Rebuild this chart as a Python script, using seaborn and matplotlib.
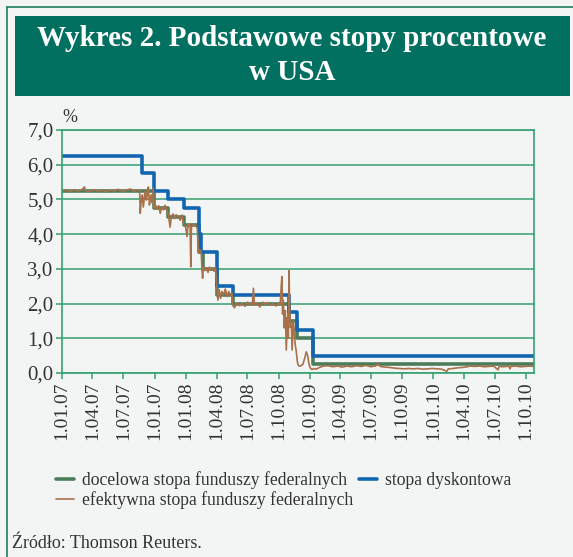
import pandas as pd
import seaborn as sns
import matplotlib.pyplot as plt
from matplotlib.patches import Rectangle
from matplotlib.lines import Line2D

# target fed funds rate (step)
target_dates = ["2007-01-01", "2007-09-29", "2007-11-11", "2007-12-26", "2008-02-08", "2008-02-21",
                "2008-04-02", "2008-05-19", "2008-11-01", "2008-11-24", "2009-01-12", "2010-10-25"]
target_vals = [5.25, 4.75, 4.50, 4.25, 3.50, 3.00, 2.25, 2.00, 1.50, 1.00, 0.25, 0.25]

# discount rate (step)
disc_dates = ["2007-01-01", "2007-08-25", "2007-09-30", "2007-11-11", "2007-12-26", "2008-02-08",
              "2008-02-16", "2008-04-02", "2008-05-19", "2008-11-01", "2008-11-24", "2009-01-12", "2010-10-25"]
disc_vals = [6.25, 5.75, 5.25, 5.00, 4.75, 4.00, 3.50, 2.50, 2.25, 1.75, 1.25, 0.50, 0.50]

# effective fed funds rate
eff_dates = [
    "2007-01-01", "2007-01-12", "2007-01-24", "2007-02-05", "2007-02-16", "2007-02-28", "2007-03-08",
    "2007-03-12", "2007-03-24", "2007-04-05", "2007-04-17", "2007-04-29", "2007-05-11", "2007-05-23",
    "2007-06-04", "2007-06-16", "2007-06-28", "2007-07-10", "2007-07-22", "2007-08-03", "2007-08-12",
    "2007-08-18", "2007-08-20", "2007-08-23", "2007-08-26", "2007-08-29", "2007-09-01", "2007-09-04",
    "2007-09-07", "2007-09-10", "2007-09-13", "2007-09-16", "2007-09-19", "2007-09-21", "2007-09-24",
    "2007-09-27", "2007-09-30", "2007-10-03", "2007-10-08", "2007-10-13", "2007-10-18", "2007-10-22",
    "2007-10-27", "2007-11-01", "2007-11-05", "2007-11-11", "2007-11-16", "2007-11-20", "2007-11-25",
    "2007-11-30", "2007-12-04", "2007-12-10", "2007-12-16", "2007-12-21", "2007-12-26", "2008-01-01",
    "2008-01-05", "2008-01-08", "2008-01-11", "2008-01-14", "2008-01-16", "2008-01-18", "2008-01-24",
    "2008-01-29", "2008-02-04", "2008-02-08", "2008-02-13", "2008-02-16", "2008-02-18", "2008-02-20",
    "2008-02-22", "2008-02-27", "2008-03-02", "2008-03-07", "2008-03-11", "2008-03-16", "2008-03-20",
    "2008-03-25", "2008-03-29", "2008-04-02", "2008-04-05", "2008-04-09", "2008-04-13", "2008-04-17",
    "2008-04-22", "2008-04-27", "2008-05-02", "2008-05-07", "2008-05-12", "2008-05-17", "2008-05-19",
    "2008-05-24", "2008-05-31", "2008-06-08", "2008-06-16", "2008-06-24", "2008-07-02", "2008-07-10",
    "2008-07-16", "2008-07-19", "2008-07-22", "2008-07-30", "2008-08-07", "2008-08-15", "2008-08-23",
    "2008-08-31", "2008-09-08", "2008-09-16", "2008-09-24", "2008-10-01", "2008-10-06", "2008-10-09",
    "2008-10-11", "2008-10-13", "2008-10-15", "2008-10-18", "2008-10-21", "2008-10-24", "2008-10-27",
    "2008-10-30", "2008-11-01", "2008-11-03", "2008-11-05", "2008-11-08", "2008-11-10", "2008-11-14",
    "2008-11-17", "2008-11-19", "2008-11-22", "2008-11-26", "2008-11-29", "2008-12-05", "2008-12-12",
    "2008-12-18", "2008-12-22", "2008-12-26", "2008-12-30", "2009-01-03", "2009-01-08", "2009-01-14",
    "2009-01-20", "2009-01-28", "2009-02-10", "2009-02-24", "2009-03-10", "2009-03-24", "2009-04-07",
    "2009-04-21", "2009-05-05", "2009-05-19", "2009-06-02", "2009-06-16", "2009-06-30", "2009-07-14",
    "2009-07-22", "2009-07-28", "2009-08-11", "2009-08-25", "2009-09-08", "2009-09-22", "2009-10-06",
    "2009-10-20", "2009-11-03", "2009-11-17", "2009-12-01", "2009-12-15", "2009-12-29", "2010-01-12",
    "2010-01-26", "2010-02-10", "2010-02-14", "2010-02-28", "2010-03-14", "2010-03-28", "2010-04-11",
    "2010-04-19", "2010-05-03", "2010-05-17", "2010-05-31", "2010-06-14", "2010-06-28", "2010-07-11",
    "2010-07-14", "2010-07-28", "2010-08-11", "2010-08-15", "2010-08-18", "2010-09-01", "2010-09-15",
    "2010-09-29", "2010-10-13", "2010-10-25",
]
eff_vals = [
    5.24, 5.27, 5.22, 5.28, 5.25, 5.27, 5.36,
    5.25, 5.23, 5.28, 5.24, 5.27, 5.22, 5.27,
    5.25, 5.29, 5.23, 5.27, 5.30, 5.24, 5.28,
    5.27, 4.60, 5.00, 5.13, 4.78, 5.05, 5.27,
    4.98, 5.15, 5.36, 4.84, 5.05, 5.13, 4.90,
    5.33, 4.75, 4.85, 4.72, 4.82, 4.60, 4.78,
    4.70, 4.83, 4.74, 4.55, 4.20, 4.52, 4.58,
    4.45, 4.56, 4.50, 4.40, 4.55, 4.25, 4.20,
    3.93, 4.28, 4.22, 4.30, 3.06, 4.20, 4.28,
    4.25, 4.18, 3.46, 3.55, 3.45, 2.97, 2.73,
    3.05, 2.95, 3.02, 2.90, 3.05, 2.97, 3.02,
    2.93, 3.05, 2.49, 2.10, 2.40, 2.15, 2.35,
    2.25, 2.42, 2.20, 2.35, 2.22, 2.30, 1.95,
    1.88, 2.02, 1.94, 2.00, 1.92, 2.04, 1.96,
    2.01, 2.44, 1.95, 2.02, 1.90, 2.04, 1.97,
    2.03, 1.95, 2.00, 1.93, 2.02, 1.97, 2.50,
    2.78, 1.70, 2.10, 1.30, 1.80, 0.66, 1.60,
    1.00, 2.95, 1.80, 1.31, 1.45, 0.66, 1.52,
    1.10, 0.84, 0.65, 0.30, 0.21, 0.20, 0.25,
    0.45, 0.61, 0.50, 0.25, 0.14, 0.10, 0.13,
    0.11, 0.15, 0.20, 0.21, 0.18, 0.20, 0.17,
    0.20, 0.18, 0.21, 0.19, 0.22, 0.18, 0.20,
    0.26, 0.19, 0.17, 0.16, 0.14, 0.13, 0.12,
    0.13, 0.12, 0.13, 0.11, 0.12, 0.13, 0.12,
    0.11, 0.05, 0.12, 0.13, 0.15, 0.16, 0.18,
    0.20, 0.19, 0.20, 0.18, 0.19, 0.20, 0.09,
    0.19, 0.18, 0.20, 0.12, 0.19, 0.20, 0.18,
    0.19, 0.20, 0.19,
]

tick_dates = pd.date_range("2007-01-01", "2010-10-01", freq="QS")
tick_labels = ["1.01.07", "1.04.07", "1.07.07", "1.01.07", "1.01.08", "1.04.08", "1.07.08", "1.10.08",
               "1.01.09", "1.04.09", "1.07.09", "1.10.09", "1.01.10", "1.04.10", "1.07.10", "1.10.10"]

target = pd.DataFrame({"data": pd.to_datetime(target_dates), "stopa": target_vals})
disc = pd.DataFrame({"data": pd.to_datetime(disc_dates), "stopa": disc_vals})
eff = pd.DataFrame({"data": pd.to_datetime(eff_dates), "stopa": eff_vals})

bg = "#f3f5f4"
frame = "#1f7f62"
grid = "#35a070"
c_target = "#4b7d5c"
c_disc = "#1266b1"
c_eff = "#a8714a"
txt = "#333333"

sns.set_style("white")
plt.rcParams["font.family"] = ["Liberation Serif", "DejaVu Serif"]

fig = plt.figure(figsize=(5.73, 5.57), dpi=100, facecolor=bg)

# page frame and title box
fig.add_artist(Line2D([7 / 573, 7 / 573], [0, 1 - 7 / 557], color=frame, lw=1.2))
fig.add_artist(Line2D([7 / 573, 1], [1 - 7 / 557, 1 - 7 / 557], color=frame, lw=1.2))
fig.add_artist(Rectangle((15 / 573, 1 - 96 / 557), 555 / 573, 80 / 557, transform=fig.transFigure,
                         facecolor="#027060", edgecolor="none"))
fig.text(292 / 573, 1 - 38 / 557, "Wykres 2. Podstawowe stopy procentowe", color="white",
         fontsize=21, fontweight="bold", ha="center", va="center")
fig.text(292 / 573, 1 - 73 / 557, "w USA", color="white",
         fontsize=21, fontweight="bold", ha="center", va="center")

ax = fig.add_axes([62 / 573, 1 - 373 / 557, 472 / 573, 243 / 557])
ax.set_facecolor(bg)

sns.lineplot(data=target, x="data", y="stopa", ax=ax, color=c_target, lw=2.6,
             drawstyle="steps-post", label="docelowa stopa funduszy federalnych")
sns.lineplot(data=disc, x="data", y="stopa", ax=ax, color=c_disc, lw=2.6,
             drawstyle="steps-post", label="stopa dyskontowa")
sns.lineplot(data=eff, x="data", y="stopa", ax=ax, color=c_eff, lw=1.2,
             label="efektywna stopa funduszy federalnych")

ax.set_xlim(pd.Timestamp("2007-01-01"), pd.Timestamp("2010-10-25"))
ax.set_ylim(0, 7)
ax.set_yticks(range(8))
ax.set_yticklabels([f"{v},0" for v in range(8)], fontsize=15, color=txt)
ax.set_xticks(tick_dates)
ax.set_xticklabels(tick_labels, rotation=90, fontsize=14, color=txt)
ax.yaxis.grid(True, color=grid, lw=1.1)
ax.set_axisbelow(True)
ax.tick_params(axis="both", length=4, width=1.1, color=grid, pad=2, left=True, bottom=True)
for s in ax.spines.values():
    s.set_color(grid)
    s.set_linewidth(1.2)
ax.set_xlabel("")
ax.set_ylabel("")
ax.legend_.remove()

fig.text(70 / 573, 1 - 117 / 557, "%", fontsize=13, color=txt, ha="center", va="center")

handles, labels = ax.get_legend_handles_labels()
order = [0, 2, 1]
leg = fig.legend([handles[i] for i in order], [labels[i] for i in order], ncol=2,
                 loc="upper left", bbox_to_anchor=(40 / 573, 1 - 455 / 557), frameon=False,
                 fontsize=12.7, handlelength=1.0, handletextpad=0.5, columnspacing=0.3,
                 labelspacing=0.15, labelcolor=txt)

fig.text(12 / 573, 1 - 543 / 557, "Źródło: Thomson Reuters.", fontsize=13, color=txt,
         ha="left", va="center")

plt.savefig("out.png", dpi=100, facecolor=bg)
